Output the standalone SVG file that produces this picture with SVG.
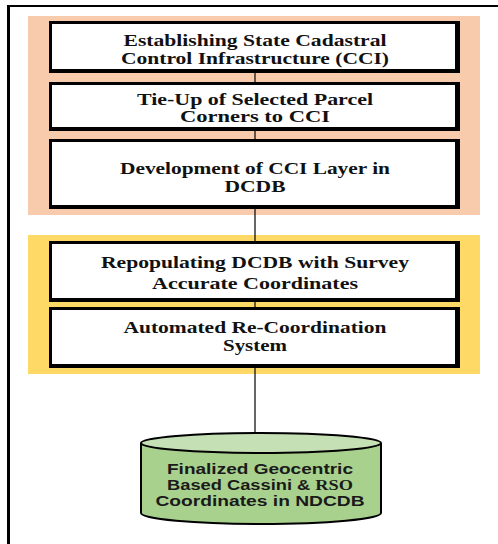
<svg xmlns="http://www.w3.org/2000/svg" width="498" height="544" viewBox="0 0 498 544">
<style>
.bt{font-family:"Liberation Serif","Times New Roman",serif;font-weight:bold;font-size:16px;fill:#111;text-anchor:middle}
.ct{font-family:"Liberation Sans",Arial,sans-serif;font-weight:bold;font-size:14px;fill:#1a1a1a;text-anchor:middle}
.ln{stroke:#000;stroke-width:1.2;fill:none}
</style>
<defs>
<marker id="ah" markerWidth="10" markerHeight="8" refX="10" refY="4" orient="auto" markerUnits="userSpaceOnUse">
<path d="M0,0 L10,4 L0,8 Z" fill="#000"/>
</marker>
</defs>
<rect width="498" height="544" fill="#fff"/>
<g id="frame">
<rect x="7" y="5" width="491" height="2" fill="#000"/>
<rect x="7" y="5" width="3" height="539" fill="#000"/>
</g>
<g id="bands">
<rect x="28" y="16" width="452" height="199" fill="#F8CBAD"/>
<rect x="28" y="235" width="452" height="139" fill="#FFD966"/>
</g>
<g id="connectors">
<line class="ln" x1="255" y1="73" x2="255" y2="82"/>
<line class="ln" x1="255" y1="131" x2="255" y2="139"/>
<line class="ln" x1="255" y1="208" x2="255" y2="241"/>
<line class="ln" x1="255" y1="302" x2="255" y2="307"/>
<line class="ln" x1="255" y1="368" x2="255" y2="442" marker-end="url(#ah)"/>
</g>
<g id="n1">
<rect x="49" y="21" width="411" height="52" fill="#000"/>
<rect x="52" y="24" width="403" height="45" fill="#fff"/>
<text class="bt" x="255" y="46" textLength="263" lengthAdjust="spacingAndGlyphs">Establishing State Cadastral</text>
<text class="bt" x="255" y="64" textLength="268" lengthAdjust="spacingAndGlyphs">Control Infrastructure (CCI)</text>
</g>
<g id="n2">
<rect x="49" y="82" width="411" height="49" fill="#000"/>
<rect x="52" y="85" width="403" height="42" fill="#fff"/>
<text class="bt" x="255" y="105" textLength="236" lengthAdjust="spacingAndGlyphs">Tie-Up of Selected Parcel</text>
<text class="bt" x="255" y="122" textLength="150" lengthAdjust="spacingAndGlyphs">Corners to CCI</text>
</g>
<g id="n3">
<rect x="49" y="139" width="411" height="70" fill="#000"/>
<rect x="52" y="142" width="403" height="63" fill="#fff"/>
<text class="bt" x="255" y="174" textLength="270" lengthAdjust="spacingAndGlyphs">Development of CCI Layer in</text>
<text class="bt" x="255" y="192" textLength="61" lengthAdjust="spacingAndGlyphs">DCDB</text>
</g>
<g id="n4">
<rect x="49" y="241" width="411" height="61" fill="#000"/>
<rect x="52" y="244" width="403" height="54" fill="#fff"/>
<text class="bt" x="255" y="268" textLength="308" lengthAdjust="spacingAndGlyphs">Repopulating DCDB with Survey</text>
<text class="bt" x="255" y="289" textLength="206" lengthAdjust="spacingAndGlyphs">Accurate Coordinates</text>
</g>
<g id="n5">
<rect x="49" y="307" width="411" height="61" fill="#000"/>
<rect x="52" y="310" width="403" height="54" fill="#fff"/>
<text class="bt" x="255" y="333" textLength="263" lengthAdjust="spacingAndGlyphs">Automated Re-Coordination</text>
<text class="bt" x="255" y="351" textLength="64" lengthAdjust="spacingAndGlyphs">System</text>
</g>
<g id="n6">
<path d="M141,443 L141,513 A120,11 0 0 0 381,513 L381,443" fill="#A9D18E" stroke="#000" stroke-width="2"/>
<ellipse cx="261" cy="443" rx="120" ry="10" fill="#C5E0B4" stroke="#000" stroke-width="2"/>
<text class="ct" x="260" y="474" textLength="186" lengthAdjust="spacingAndGlyphs">Finalized Geocentric</text>
<text class="ct" x="260" y="490" textLength="186" lengthAdjust="spacingAndGlyphs">Based Cassini &amp; <tspan font-family="Liberation Serif, serif">RSO</tspan></text>
<text class="ct" x="260" y="506" textLength="209" lengthAdjust="spacingAndGlyphs">Coordinates in NDCDB</text>
</g>
</svg>
